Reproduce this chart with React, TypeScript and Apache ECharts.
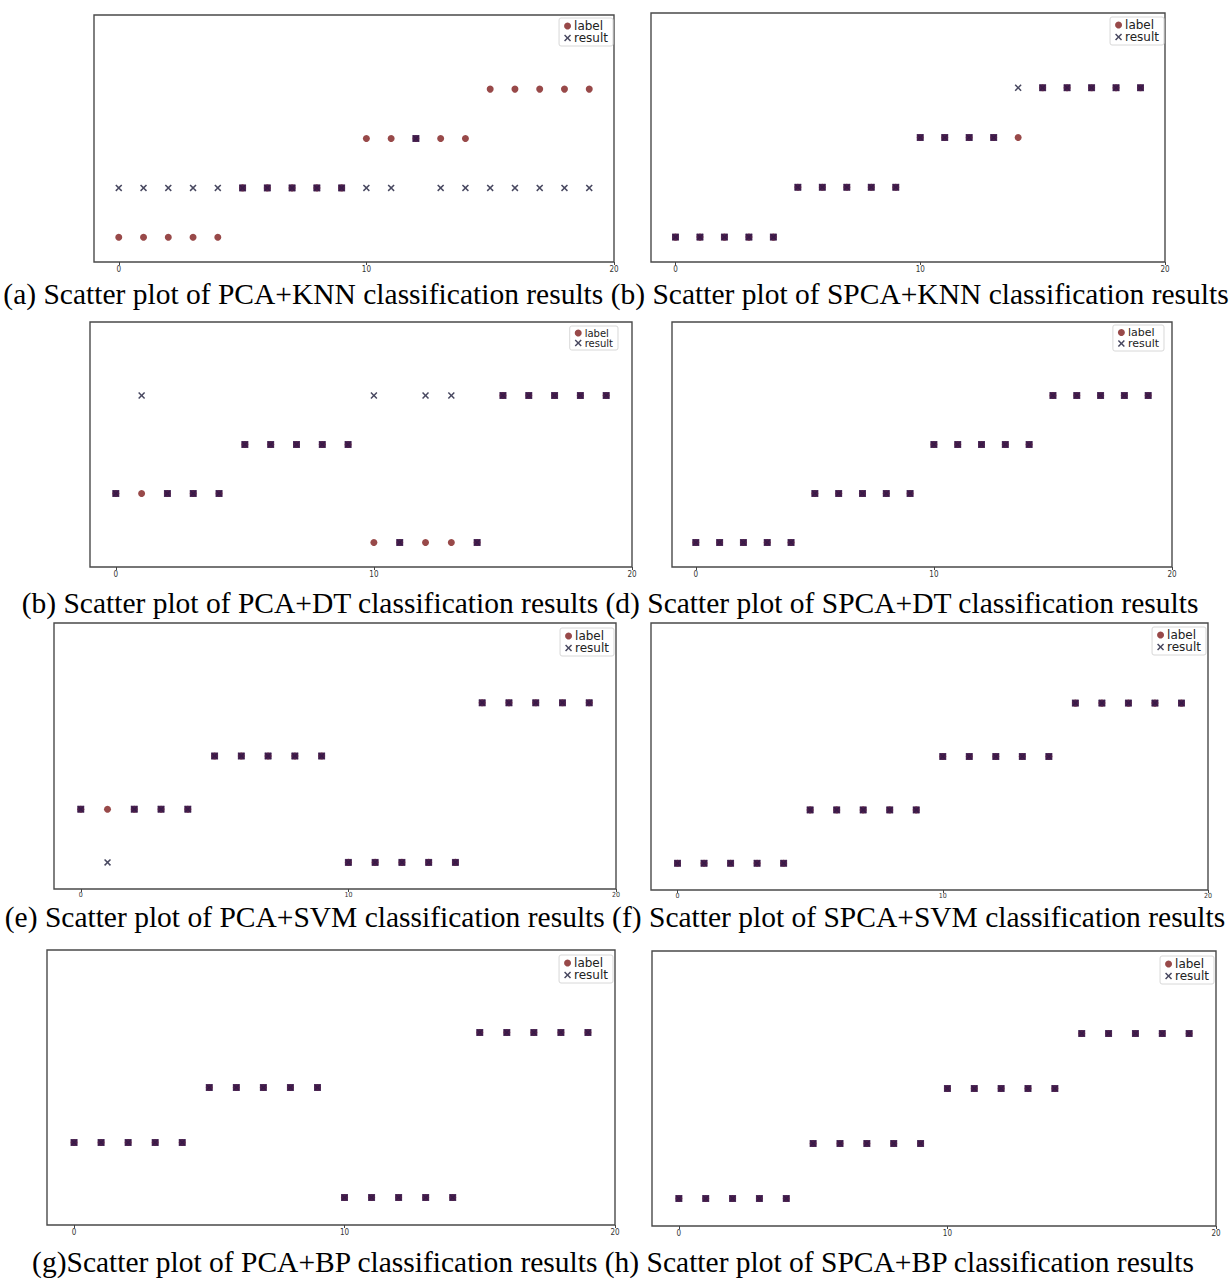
import React, { useEffect, useRef } from "react";
import * as echarts from "echarts";

// ---- data ----
const sampleIndex = [0, 1, 2, 3, 4, 5, 6, 7, 8, 9, 10, 11, 12, 13, 14, 15, 16, 17, 18, 19];
const xTickValues = [0, 10, 20];

const pcaKnnLabel = [0, 0, 0, 0, 0, 1, 1, 1, 1, 1, 2, 2, 2, 2, 2, 3, 3, 3, 3, 3];
const pcaKnnResult = [1, 1, 1, 1, 1, 1, 1, 1, 1, 1, 1, 1, 2, 1, 1, 1, 1, 1, 1, 1];
const spcaKnnLabel = [0, 0, 0, 0, 0, 1, 1, 1, 1, 1, 2, 2, 2, 2, 2, 3, 3, 3, 3, 3];
const spcaKnnResult = [0, 0, 0, 0, 0, 1, 1, 1, 1, 1, 2, 2, 2, 2, 3, 3, 3, 3, 3, 3];
const pcaDtLabel = [1, 1, 1, 1, 1, 2, 2, 2, 2, 2, 0, 0, 0, 0, 0, 3, 3, 3, 3, 3];
const pcaDtResult = [1, 3, 1, 1, 1, 2, 2, 2, 2, 2, 3, 0, 3, 3, 0, 3, 3, 3, 3, 3];
const spcaDtLabel = [0, 0, 0, 0, 0, 1, 1, 1, 1, 1, 2, 2, 2, 2, 2, 3, 3, 3, 3, 3];
const spcaDtResult = [0, 0, 0, 0, 0, 1, 1, 1, 1, 1, 2, 2, 2, 2, 2, 3, 3, 3, 3, 3];
const pcaSvmLabel = [1, 1, 1, 1, 1, 2, 2, 2, 2, 2, 0, 0, 0, 0, 0, 3, 3, 3, 3, 3];
const pcaSvmResult = [1, 0, 1, 1, 1, 2, 2, 2, 2, 2, 0, 0, 0, 0, 0, 3, 3, 3, 3, 3];
const spcaSvmLabel = [0, 0, 0, 0, 0, 1, 1, 1, 1, 1, 2, 2, 2, 2, 2, 3, 3, 3, 3, 3];
const spcaSvmResult = [0, 0, 0, 0, 0, 1, 1, 1, 1, 1, 2, 2, 2, 2, 2, 3, 3, 3, 3, 3];
const pcaBpLabel = [1, 1, 1, 1, 1, 2, 2, 2, 2, 2, 0, 0, 0, 0, 0, 3, 3, 3, 3, 3];
const pcaBpResult = [1, 1, 1, 1, 1, 2, 2, 2, 2, 2, 0, 0, 0, 0, 0, 3, 3, 3, 3, 3];
const spcaBpLabel = [0, 0, 0, 0, 0, 1, 1, 1, 1, 1, 2, 2, 2, 2, 2, 3, 3, 3, 3, 3];
const spcaBpResult = [0, 0, 0, 0, 0, 1, 1, 1, 1, 1, 2, 2, 2, 2, 2, 3, 3, 3, 3, 3];

const captions = [
  "(a) Scatter plot of PCA+KNN classification results (b) Scatter plot of SPCA+KNN classification results",
  "(b) Scatter plot of PCA+DT classification results (d) Scatter plot of SPCA+DT classification results",
  "(e) Scatter plot of PCA+SVM classification results (f) Scatter plot of SPCA+SVM classification results",
  "(g)Scatter plot of PCA+BP classification results (h) Scatter plot of SPCA+BP classification results",
];

const panelData = [
  [pcaKnnLabel, pcaKnnResult],
  [spcaKnnLabel, spcaKnnResult],
  [pcaDtLabel, pcaDtResult],
  [spcaDtLabel, spcaDtResult],
  [pcaSvmLabel, pcaSvmResult],
  [spcaSvmLabel, spcaSvmResult],
  [pcaBpLabel, pcaBpResult],
  [spcaBpLabel, spcaBpResult],
];

// ---- layout (frame boxes: x0, y0, x1, y1; legend box right/top; legend font; tick font) ----
const W = 1231;
const H = 1284;
const frames = [
  { x0: 94, y0: 15, x1: 614, y1: 262, lr: 613, lt: 18, lf: 12, tf: 8 },
  { x0: 651, y0: 13, x1: 1165, y1: 262, lr: 1164, lt: 17, lf: 12, tf: 8 },
  { x0: 90, y0: 322, x1: 632, y1: 567, lr: 618, lt: 326, lf: 10, tf: 8 },
  { x0: 672, y0: 322, x1: 1172, y1: 567, lr: 1164, lt: 325, lf: 11, tf: 8 },
  { x0: 54, y0: 623, x1: 616, y1: 889, lr: 614, lt: 628, lf: 12, tf: 7 },
  { x0: 651, y0: 623, x1: 1208, y1: 890, lr: 1206, lt: 627, lf: 12, tf: 7 },
  { x0: 47, y0: 950, x1: 615, y1: 1225, lr: 613, lt: 955, lf: 12, tf: 8 },
  { x0: 652, y0: 951, x1: 1216, y1: 1226, lr: 1214, lt: 956, lf: 12, tf: 8 },
];
const captionLayout = [
  { x: 616, y: 294 },
  { x: 610, y: 603 },
  { x: 615, y: 917 },
  { x: 613, y: 1262 },
];

const LABEL_COLOR = "#7e1c1c";
const RESULT_COLOR = "#1a1a38";
const MATCH_COLOR = "#3a164c";
const X_SYMBOL =
  "path://M0,1.5L1.5,0L5,3.5L8.5,0L10,1.5L6.5,5L10,8.5L8.5,10L5,6.5L1.5,10L0,8.5L3.5,5Z";

export default function App() {
  const ref = useRef<HTMLDivElement>(null);

  useEffect(() => {
    if (!ref.current) return;
    const chart = echarts.init(ref.current, undefined, { renderer: "svg" });

    const grid: any[] = [];
    const xAxis: any[] = [];
    const yAxis: any[] = [];
    const series: any[] = [];
    const legend: any[] = [];

    frames.forEach((f, i) => {
      grid.push({
        left: f.x0,
        top: f.y0,
        width: f.x1 - f.x0,
        height: f.y1 - f.y0,
        show: true,
        borderColor: "#4a4a4a",
        borderWidth: 1.4,
        backgroundColor: "#fff",
      });
      xAxis.push({
        type: "value",
        gridIndex: i,
        min: -1,
        max: 20,
        position: "bottom",
        axisLine: { show: false, onZero: false },
        splitLine: { show: false },
        axisTick: { show: true, length: 3, customValues: xTickValues, lineStyle: { color: "#444" } },
        axisLabel: {
          show: true,
          customValues: xTickValues,
          fontSize: f.tf,
          fontFamily: "DejaVu Sans Condensed",
          color: "#333",
          margin: f.tf === 7 ? 2 : 3,
        },
      });
      yAxis.push({
        type: "value",
        gridIndex: i,
        min: -0.5,
        max: 4.5,
        axisLine: { show: false, onZero: false },
        splitLine: { show: false },
        axisTick: { show: false },
        axisLabel: { show: false },
      });
      const [lab, res] = panelData[i];
      series.push({
        name: "label",
        type: "scatter",
        xAxisIndex: i,
        yAxisIndex: i,
        symbol: "circle",
        symbolSize: 7,
        itemStyle: { color: LABEL_COLOR },
        data: sampleIndex.map((x, j) => [x, lab[j]]),
        z: 2,
      });
      series.push({
        name: "result",
        type: "scatter",
        xAxisIndex: i,
        yAxisIndex: i,
        symbol: X_SYMBOL,
        symbolSize: 7,
        itemStyle: { color: RESULT_COLOR },
        data: sampleIndex.map((x, j) => [x, res[j]]),
        z: 3,
      });
      series.push({
        name: "match",
        type: "scatter",
        xAxisIndex: i,
        yAxisIndex: i,
        symbol: "rect",
        symbolSize: 7,
        itemStyle: { color: MATCH_COLOR },
        data: sampleIndex
          .map((x, j) => [x, lab[j], res[j]])
          .filter((d) => d[1] === d[2])
          .map((d) => [d[0], d[1]]),
        z: 4,
      });
      legend.push({
        orient: "vertical",
        right: W - f.lr,
        top: f.lt,
        itemWidth: 7,
        itemHeight: 7,
        itemGap: 0,
        padding: [2, 5, 2, 5],
        borderColor: "#d8d8d8",
        borderWidth: 1,
        borderRadius: 2,
        backgroundColor: "#fff",
        selectedMode: false,
        textStyle: {
          fontSize: f.lf,
          fontFamily: "DejaVu Sans",
          color: "#222",
          padding: [0, 0, 0, -2],
        },
        data: [
          { name: "label", icon: "circle", itemStyle: { color: LABEL_COLOR } },
          { name: "result", icon: X_SYMBOL, itemStyle: { color: RESULT_COLOR } },
        ],
      });
    });

    const graphic = captions.map((t, i) => ({
      type: "text",
      x: captionLayout[i].x,
      y: captionLayout[i].y,
      style: {
        text: t,
        fontSize: 29.5,
        fontFamily: "Liberation Serif",
        fill: "#000",
        align: "center",
        verticalAlign: "middle",
      },
    }));

    chart.setOption({
      animation: false,
      backgroundColor: "#fff",
      grid,
      xAxis,
      yAxis,
      series,
      legend,
      graphic,
    });

    return () => chart.dispose();
  }, []);

  return (
    <div
      ref={ref}
      style={{ position: "absolute", left: 0, top: 0, width: W, height: H, background: "#fff" }}
    />
  );
}
